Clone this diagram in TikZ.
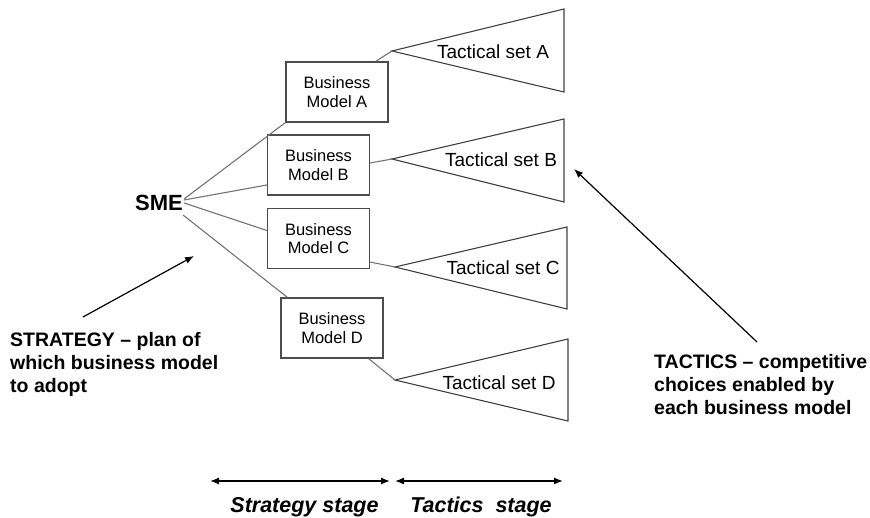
\documentclass[tikz,border=0pt]{standalone}
\usepackage{fontspec}
\setmainfont{Liberation Sans}
\usetikzlibrary{calc,arrows.meta}

\begin{document}
\begin{tikzpicture}[x=1pt,y=-1pt,
	bmbox/.style={draw=black!70,line width=1.1pt,minimum width=102pt,minimum height=60pt,align=center,inner sep=0pt,font=\fontsize{16.5}{18.3}\selectfont},
	tri/.style={draw=black!75,line width=1.1pt},
	link/.style={draw=black!55,line width=1.1pt},
	note/.style={align=left,inner sep=0pt,font=\fontsize{19.5}{23.3}\selectfont\bfseries},
	stage/.style={inner sep=0pt,font=\fontsize{21.5}{24}\selectfont\bfseries\itshape},
	pointer/.style={line width=1.2pt,-{Latex[length=9pt,width=7pt]}},
	span/.style={line width=1.3pt,{Latex[length=9pt,width=7pt]}-{Latex[length=9pt,width=7pt]}}]
		\useasboundingbox (0,0) rectangle (870,518);
		\node[font=\fontsize{22}{26}\selectfont\bfseries,inner sep=0pt] (SME) at (159,203) {SME};
		\node[bmbox] (bmA) at (337,92) {Business\\Model A};
		\node[bmbox] (bmB) at (318.5,165) {Business\\Model B};
		\node[bmbox] (bmC) at (318.5,238.5) {Business\\Model C};
		\node[bmbox] (bmD) at (332,328) {Business\\Model D};
		\coordinate (tA) at (392,51);
		\coordinate (tB) at (392,159);
		\coordinate (tC) at (395,267);
		\coordinate (tD) at (395,380);
		\draw[tri](tA)--(564,9)--(564,92)--cycle;
		\draw[tri](tB)--(564,119)--(564,202)--cycle;
		\draw[tri](tC)--(567,227)--(567,309)--cycle;
		\draw[tri](tD)--(568,339)--(568,421)--cycle;
		\node (setA) at (493,52) {\fontsize{19}{22}\selectfont Tactical set A};
		\node (setB) at (501,160) {\fontsize{19}{22}\selectfont Tactical set B};
		\node (setC) at (503,268) {\fontsize{19}{22}\selectfont Tactical set C};
		\node (setD) at (499,383) {\fontsize{19}{22}\selectfont Tactical set D};
		\draw[link]($(SME.east)+(1,-4)$)--(bmA.south west);
		\draw[link]($(SME.east)+(1,-3)$)--($(bmB.west)+(0,20)$);
		\draw[link]($(SME.east)+(1,0)$)--($(bmC.west)+(0,-8)$);
		\draw[link]($(SME.east)+(0,12)$)--($(bmD.north west)+(7,0)$);
		\draw[link]($(bmA.north east)+(-13,0)$)--(tA);
		\draw[link]($(bmB.east)+(0,-2)$)--(tB);
		\draw[link]($(bmC.south east)+(0,-7)$)--(tC);
		\draw[link]($(bmD.south east)+(-15,0)$)--(tD);
		\node[note,anchor=north west] (strat) at (10,332) {STRATEGY -- plan of\\which business model\\to adopt};
		\node[note,anchor=north west] (tact) at (654,354) {TACTICS -- competitive\\choices enabled by\\each business model};
		\coordinate (sTail) at (83,317);
		\coordinate (sHead) at (194,256);
		\coordinate (tTail) at (757,342);
		\coordinate (tHead) at (574,169);
		\draw[pointer](sTail)--(sHead);
		\draw[pointer](tTail)--(tHead);
		\coordinate (s1) at (210,481);
		\coordinate (s2) at (390,481);
		\coordinate (s3) at (395,481);
		\coordinate (s4) at (563,481);
		\draw[span](s1)--(s2);
		\draw[span](s3)--(s4);
		\node[stage,anchor=base] (sStage) at (304.5,512) {Strategy stage};
		\node[stage,anchor=base] (tStage) at (481,512) {Tactics\ \ stage};
\end{tikzpicture}
\end{document}
